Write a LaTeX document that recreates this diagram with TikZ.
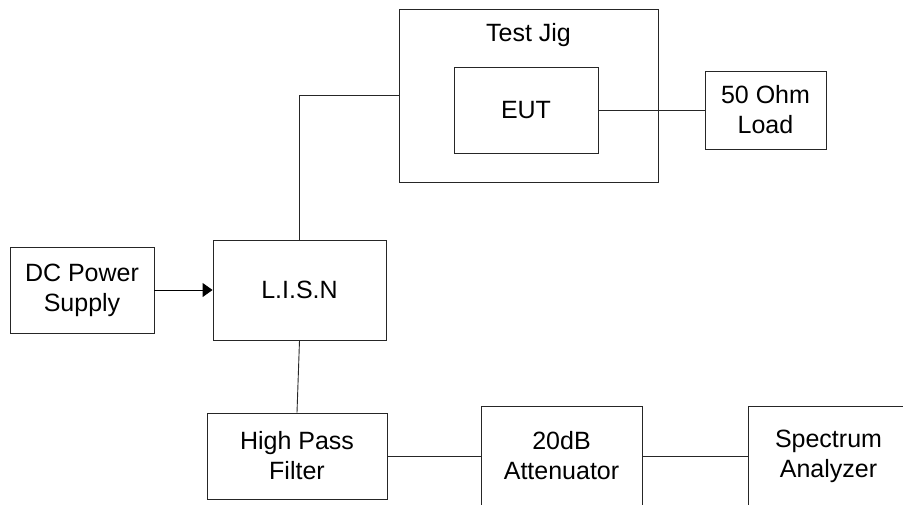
\documentclass[tikz,border=0pt]{standalone}
\usepackage{fontspec}
\setmainfont{Liberation Sans}
\usetikzlibrary{arrows.meta}
\begin{document}
\begin{tikzpicture}[x=1pt,y=-1pt,
  box/.style={draw=black!85,line width=0.9pt,rectangle,inner sep=0pt,align=center,
    font=\fontsize{25}{30}\selectfont},
  lbl/.style={inner sep=0pt,align=center,font=\fontsize{25}{30}\selectfont},
  wire/.style={draw=black!85,line width=0.9pt}]
\clip (0,0) rectangle (903,504);
\useasboundingbox (0,0) rectangle (903,504);
\node[box,minimum width=144pt,minimum height=86pt] (dc) at (82,290) {DC Power\\Supply};
\node[box,minimum width=173pt,minimum height=100pt] (lisn) at (299.5,290) {L.I.S.N};
\node[box,minimum width=259pt,minimum height=173pt] (jig) at (528.5,95.5) {};
\node[lbl] (jigt) at (528.5,35) {Test Jig};
\node[box,minimum width=144pt,minimum height=86pt] (eut) at (526,110) {EUT};
\node[box,minimum width=121pt,minimum height=78pt] (load) at (765.5,110) {50 Ohm\\Load};
\node[box,minimum width=180pt,minimum height=86pt] (hpf) at (297,456) {High Pass\\Filter};
\node[box,minimum width=161pt,minimum height=100pt] (att) at (561.5,456) {20dB\\Attenuator};
\node[box,minimum width=161pt,minimum height=100pt] (spec) at (828.5,456) {Spectrum\\Analyzer};
\draw[wire,draw=black,-{Triangle[length=10pt,width=14pt]}] (dc.east) -- (lisn.west);
\draw[wire] (lisn.north) |- (jig.west);
\draw[wire] (eut.east) -- (load.west);
\draw[wire] (lisn.south) -- (hpf.north);
\draw[wire] (hpf.east) -- (att.west);
\draw[wire] (att.east) -- (spec.west);
\end{tikzpicture}
\end{document}
